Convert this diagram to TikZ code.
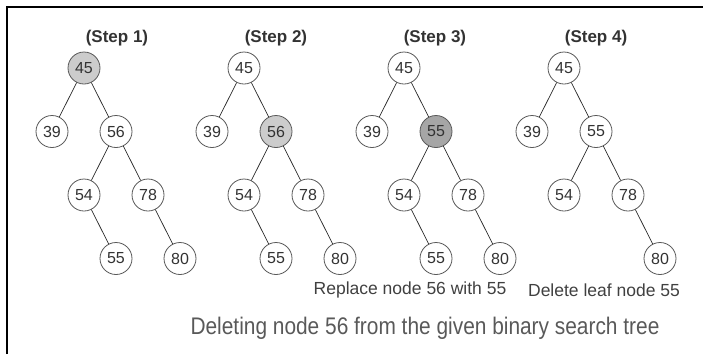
\documentclass[tikz,border=0pt]{standalone}
\usepackage{fontspec}
\setmainfont{Liberation Sans}
\setsansfont{Liberation Sans}
\usetikzlibrary{positioning}

\begin{document}
\begin{tikzpicture}[
    x=1pt, y=-1pt,
    font=\sffamily,
    on grid,
    node distance=63.5pt and 32pt,
    key/.style={circle, draw=gray!70!black, fill=white, minimum size=32pt, inner sep=0pt,
                line width=0.8pt, font=\fontsize{16}{16}\selectfont, text=black!80},
    hit/.style={key, fill=gray!40},
    edge/.style={gray!30!black, line width=0.7pt},
    steptitle/.style={font=\fontsize{17}{17}\selectfont\bfseries, text=black!80},
    note/.style={font=\fontsize{17.5}{17.5}\selectfont, text=black!75}
]
\useasboundingbox (0,0) rectangle (703,354);
% frame (top and left only)
\draw[line width=2pt] (7,354) -- (7,7) -- (703,7);
% Step 1
\node[hit] (s1root) at (84,68) {45};
\node[key, below left=of s1root]  (s1l)   {39};
\node[key, below right=of s1root] (s1r)   {56};
\node[key, below left=of s1r]     (s1rl)  {54};
\node[key, below right=of s1r]    (s1rr)  {78};
\node[key, below right=of s1rl]   (s1rlr) {55};
\node[key, below right=of s1rr]   (s1rrr) {80};
% Step 2
\node[key] (s2root) at (244,68) {45};
\node[key, below left=of s2root]  (s2l)   {39};
\node[hit, below right=of s2root] (s2r)   {56};
\node[key, below left=of s2r]     (s2rl)  {54};
\node[key, below right=of s2r]    (s2rr)  {78};
\node[key, below right=of s2rl]   (s2rlr) {55};
\node[key, below right=of s2rr]   (s2rrr) {80};
% Step 3
\node[key] (s3root) at (404,68) {45};
\node[key, below left=of s3root]  (s3l)   {39};
\node[hit, fill=gray!70, below right=of s3root] (s3r) {55};
\node[key, below left=of s3r]     (s3rl)  {54};
\node[key, below right=of s3r]    (s3rr)  {78};
\node[key, below right=of s3rl]   (s3rlr) {55};
\node[key, below right=of s3rr]   (s3rrr) {80};
% Step 4
\node[key] (s4root) at (564,68) {45};
\node[key, below left=of s4root]  (s4l)   {39};
\node[key, below right=of s4root] (s4r)   {55};
\node[key, below left=of s4r]     (s4rl)  {54};
\node[key, below right=of s4r]    (s4rr)  {78};
\node[key, below right=of s4rr]   (s4rrr) {80};
% tree edges
\foreach \s in {1,2,3}
   \foreach \a/\b in {root/l, root/r, r/rl, r/rr, rl/rlr, rr/rrr}
      \draw[edge] (s\s\a) -- (s\s\b);
\foreach \a/\b in {root/l, root/r, r/rl, r/rr, rr/rrr}
   \draw[edge] (s4\a) -- (s4\b);
% titles and notes
\node[steptitle] (t1) at (117,38) {(Step 1)};
\node[steptitle] (t2) at (276,38) {(Step 2)};
\node[steptitle] (t3) at (435,38) {(Step 3)};
\node[steptitle] (t4) at (596,38) {(Step 4)};
\node[note] (n3) at (410,290) {Replace node 56 with 55};
\node[note] (n4) at (604,290) {Delete leaf node 55};
\node[font=\fontsize{24}{24}\selectfont, text=black!65] (cap) at (425,328)
   {\scalebox{0.87}[1]{Deleting node 56 from the given binary search tree}};
\end{tikzpicture}
\end{document}
